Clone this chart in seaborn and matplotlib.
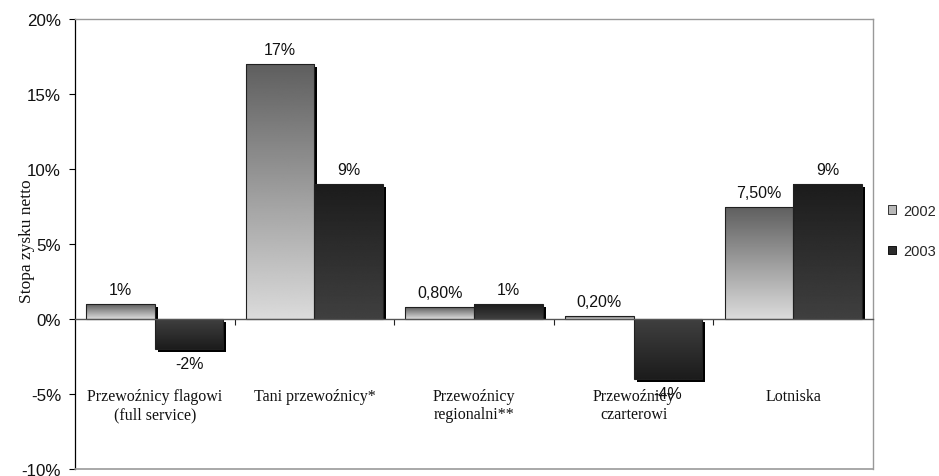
import numpy as np
import pandas as pd
import matplotlib
matplotlib.use("Agg")
import matplotlib.pyplot as plt
import matplotlib.patheffects as pe
from matplotlib.patches import Rectangle, Patch
import seaborn as sns

# Net profit margin by airline / airport segment, 2002 vs 2003 (in %)
categories = [
    "Przewoźnicy flagowi\n(full service)",
    "Tani przewoźnicy*",
    "Przewoźnicy\nregionalni**",
    "Przewoźnicy\nczarterowi",
    "Lotniska",
]
years = ["2002", "2003"]
margin_2002 = [1, 17, 0.8, 0.2, 7.5]
margin_2003 = [-2, 9, 1, -4, 9]
y_ticks = [-10, -5, 0, 5, 10, 15, 20]

df = pd.DataFrame({
    "segment": categories * 2,
    "year": [years[0]] * len(categories) + [years[1]] * len(categories),
    "margin": margin_2002 + margin_2003,
})

sns.set_theme(style="white")
plt.rcParams["font.family"] = ["Liberation Sans", "DejaVu Sans"]

fig = plt.figure(figsize=(9.39, 4.77), dpi=100)
ax = fig.add_axes([75 / 939, 7 / 477, 798 / 939, 450 / 477])

sns.barplot(data=df, x="segment", y="margin", hue="year", width=0.86,
            palette=["#c0c0c0", "#303030"], dodge=True, ax=ax,
            legend=False, saturation=1)

ax.set_xlim(-0.5, len(categories) - 0.5)
ax.set_ylim(-10, 20)

# gradient fills: (dark end at the bar tip, light end at the zero line)
shades = {0: (0.37, 0.86), 1: (0.11, 0.25)}
grad_n = 256


def fmt_pct(v):
    if float(v).is_integer():
        return f"{int(v)}%"
    return f"{v:.2f}%".replace(".", ",")


for h, cont in enumerate(ax.containers):
    dark, light = shades[h]
    for p, v in zip(cont.patches, cont.datavalues):
        x0, w = p.get_x(), p.get_width()
        y0, hgt = p.get_y(), p.get_height()
        ylo, yhi = min(y0, y0 + hgt), max(y0, y0 + hgt)
        p.set_facecolor("none")
        p.set_edgecolor("none")
        p.set_zorder(2)
        p.set_path_effects([pe.SimplePatchShadow(offset=(2.2, -2.2),
                                                 shadow_rgbFace="black",
                                                 alpha=1.0)])
        # keep the drop shadow on the bar's own side of the zero line
        side = Rectangle((-1, 0 if v >= 0 else -30), 10, 30,
                         transform=ax.transData)
        p.set_clip_path(side)
        ramp = np.linspace(0, 1, grad_n)
        if v >= 0:
            col = light + (dark - light) * ramp
        else:
            col = dark + (light - dark) * ramp
        img = ax.imshow(col.reshape(-1, 1), cmap="gray", vmin=0, vmax=1,
                        extent=[x0, x0 + w, ylo, yhi], origin="lower",
                        aspect="auto", zorder=2.5, interpolation="bilinear")
        img.set_clip_path(Rectangle((x0, ylo), w, yhi - ylo,
                                    transform=ax.transData))
        ax.add_patch(Rectangle((x0, ylo), w, yhi - ylo, fill=False,
                               edgecolor="#202020", linewidth=0.8, zorder=3))
        if v >= 0:
            ax.annotate(fmt_pct(v), (x0 + w / 2, v), xytext=(0, 5),
                        textcoords="offset points", ha="center", va="bottom",
                        fontsize=11.5, color="#111111", zorder=5)
        else:
            ax.annotate(fmt_pct(v), (x0 + w / 2, v), xytext=(0, -5),
                        textcoords="offset points", ha="center", va="top",
                        fontsize=11.5, color="#111111", zorder=5)

ax.set_xlim(-0.5, len(categories) - 0.5)
ax.set_ylim(-10, 20)

# category names below the zero line
for i, name in enumerate(categories):
    ax.text(i, -4.6, name, ha="center", va="top", fontsize=11.5,
            family=["Liberation Serif", "DejaVu Serif"], linespacing=1.2,
            color="#111111", zorder=6)

# axes styling
ax.set_xlabel("")
ax.set_ylabel("")
ax.set_yticks(y_ticks)
ax.set_yticklabels([f"{t}%" for t in y_ticks], fontsize=12.2, color="#111111")
ax.tick_params(axis="y", direction="out", length=4, width=0.8, color="black",
               left=True, pad=6)

ax.spines["bottom"].set_position(("data", 0))
ax.spines["bottom"].set_color("#555555")
ax.spines["bottom"].set_linewidth(1.0)
ax.spines["bottom"].set_zorder(4)
ax.set_xticks([i + 0.5 for i in range(len(categories) - 1)])
ax.set_xticklabels([])
ax.tick_params(axis="x", direction="out", length=4, width=0.8,
               color="#222222", bottom=True)

ax.spines["left"].set_color("black")
ax.spines["left"].set_linewidth(0.9)
for s in ("top", "right"):
    ax.spines[s].set_color("#999999")
    ax.spines[s].set_linewidth(1.0)
ax.plot([0, 1], [0, 0], transform=ax.transAxes, color="#999999",
        linewidth=1.2, clip_on=False, zorder=4)
ax.grid(False)

fig.text(27 / 939, 1 - 241 / 477, "Stopa zysku netto", rotation=90,
         ha="center", va="center", fontsize=12.5,
         family=["Liberation Serif", "DejaVu Serif"], color="#111111")

handles = [Patch(facecolor="#b8b8b8", edgecolor="#333333", linewidth=0.7),
           Patch(facecolor="#2c2c2c", edgecolor="#111111", linewidth=0.7)]
fig.legend(handles, years, loc="upper left",
           bbox_to_anchor=(888 / 939, 1 - 205 / 477),
           bbox_transform=fig.transFigure, frameon=False, fontsize=10.5,
           handlelength=0.55, handleheight=0.55, handletextpad=0.5,
           labelspacing=1.8, borderpad=0, borderaxespad=0)

fig.savefig("out.png", dpi=100)
